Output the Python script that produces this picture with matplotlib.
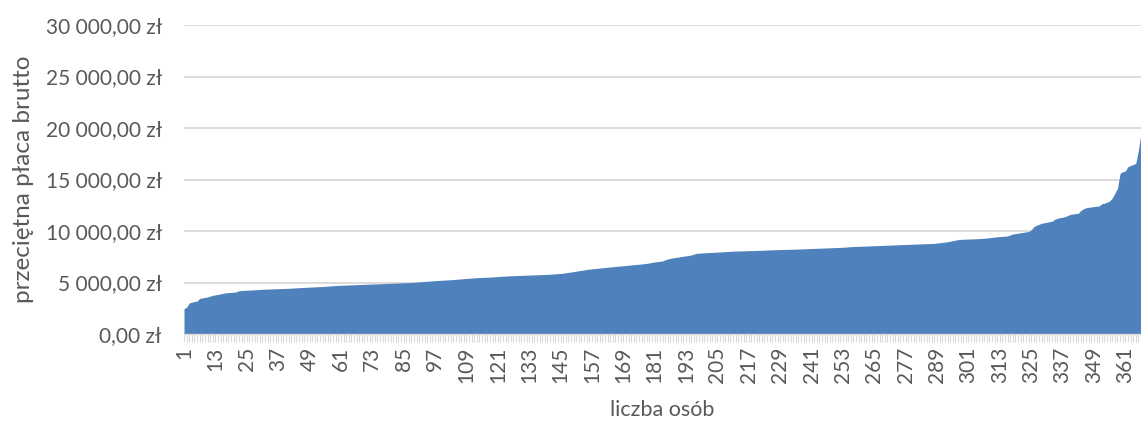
import numpy as np
import matplotlib.pyplot as plt
from matplotlib.ticker import FixedLocator, FuncFormatter

# Sorted average gross salaries (zł), one value per person
salaries = [
    2450, 2600, 3000, 3100, 3150, 3200, 3450, 3500, 3550, 3600, 3680, 3750,
    3800, 3850, 3900, 3950, 4000, 4020, 4040, 4060, 4100, 4200, 4220, 4240,
    4250, 4260, 4280, 4290, 4310, 4330, 4340, 4350, 4360, 4370, 4380, 4390,
    4400, 4410, 4420, 4430, 4440, 4450, 4470, 4480, 4500, 4510, 4520, 4540,
    4550, 4560, 4570, 4590, 4600, 4610, 4630, 4650, 4670, 4690, 4700, 4720,
    4730, 4740, 4750, 4760, 4770, 4780, 4790, 4800, 4810, 4820, 4830, 4840,
    4850, 4860, 4870, 4880, 4890, 4900, 4910, 4920, 4930, 4940, 4950, 4960,
    4970, 4980, 4990, 5000, 5020, 5040, 5060, 5080, 5100, 5120, 5140, 5160,
    5180, 5200, 5210, 5220, 5240, 5250, 5270, 5290, 5310, 5330, 5350, 5370,
    5390, 5410, 5430, 5450, 5460, 5480, 5490, 5500, 5510, 5520, 5540, 5560,
    5580, 5600, 5610, 5620, 5640, 5650, 5660, 5670, 5680, 5690, 5700, 5710,
    5720, 5730, 5740, 5750, 5760, 5770, 5780, 5790, 5800, 5820, 5840, 5860,
    5880, 5900, 5940, 5980, 6020, 6060, 6100, 6140, 6180, 6220, 6260, 6300,
    6320, 6350, 6380, 6400, 6430, 6450, 6480, 6500, 6530, 6560, 6580, 6600,
    6630, 6650, 6680, 6700, 6730, 6750, 6770, 6800, 6830, 6860, 6900, 6950,
    6990, 7030, 7060, 7090, 7200, 7280, 7350, 7390, 7430, 7470, 7510, 7550,
    7590, 7630, 7670, 7750, 7830, 7850, 7870, 7880, 7900, 7910, 7920, 7940,
    7950, 7960, 7980, 7990, 8010, 8030, 8040, 8050, 8060, 8060, 8070, 8080,
    8090, 8100, 8100, 8110, 8120, 8130, 8140, 8150, 8160, 8170, 8180, 8190,
    8200, 8200, 8210, 8220, 8220, 8230, 8240, 8250, 8260, 8270, 8280, 8290,
    8300, 8310, 8320, 8330, 8340, 8350, 8360, 8370, 8380, 8390, 8400, 8410,
    8420, 8440, 8460, 8480, 8490, 8500, 8510, 8520, 8530, 8540, 8550, 8560,
    8570, 8580, 8590, 8600, 8610, 8620, 8630, 8640, 8650, 8660, 8670, 8680,
    8690, 8700, 8710, 8720, 8730, 8740, 8750, 8760, 8770, 8780, 8790, 8800,
    8830, 8860, 8890, 8920, 8960, 9010, 9060, 9110, 9160, 9190, 9200, 9210,
    9220, 9230, 9240, 9250, 9260, 9280, 9290, 9320, 9350, 9380, 9410, 9440,
    9460, 9480, 9500, 9520, 9620, 9710, 9750, 9790, 9830, 9870, 9910, 9950,
    10100, 10420, 10550, 10650, 10750, 10800, 10850, 10900, 10950, 11130, 11230, 11300,
    11330, 11400, 11500, 11620, 11650, 11690, 11720, 12000, 12150, 12260, 12300, 12340,
    12370, 12400, 12430, 12650, 12700, 12800, 12910, 13200, 13660, 14150, 15600, 15750,
    15830, 16250, 16350, 16450, 16570, 17800, 19500,
]
persons = np.arange(1, len(salaries) + 1)
y_ticks = [0, 5000, 10000, 15000, 20000, 25000, 30000]

plt.rcParams['font.family'] = ['Lato', 'DejaVu Sans']
text_color = '#595959'
grid_color = '#d9d9d9'

fig = plt.figure(figsize=(11.41, 4.21), dpi=100)
ax = fig.add_axes([184 / 1141, 1 - 334 / 421, 1 - 184 / 1141, 309 / 421])

ax.fill_between(persons, salaries, 0, color='#4F81BD', linewidth=0, zorder=2)

ax.set_xlim(persons[0], persons[-1])
ax.set_ylim(0, 30000)

# y axis: currency labels, horizontal gridlines
ax.yaxis.set_major_locator(FixedLocator(y_ticks))
ax.yaxis.set_major_formatter(FuncFormatter(
    lambda v, _: f'{v:,.2f}'.replace(',', ' ').replace('.', ',') + ' zł'))
ax.grid(axis='y', color=grid_color, linewidth=1.3, zorder=0)
ax.tick_params(axis='y', length=0, pad=16, labelsize=15, labelcolor=text_color)

# x axis: a tick for each person, a label every 12
ax.xaxis.set_major_locator(FixedLocator(persons))
ax.xaxis.set_major_formatter(FuncFormatter(
    lambda v, _: str(int(v)) if (int(v) - 1) % 12 == 0 else ''))
ax.tick_params(axis='x', length=6, width=0.8, color=grid_color, pad=3,
               labelsize=15, labelcolor=text_color, labelrotation=90)

for side in ['top', 'right', 'left']:
    ax.spines[side].set_visible(False)
ax.spines['bottom'].set_color(grid_color)
ax.spines['bottom'].set_linewidth(1.0)

ax.set_ylabel('przeciętna płaca brutto', fontsize=17.5, color=text_color, labelpad=8)
ax.set_xlabel('liczba osób', fontsize=15.5, color=text_color, labelpad=12)

fig.savefig('out.png', dpi=100)
